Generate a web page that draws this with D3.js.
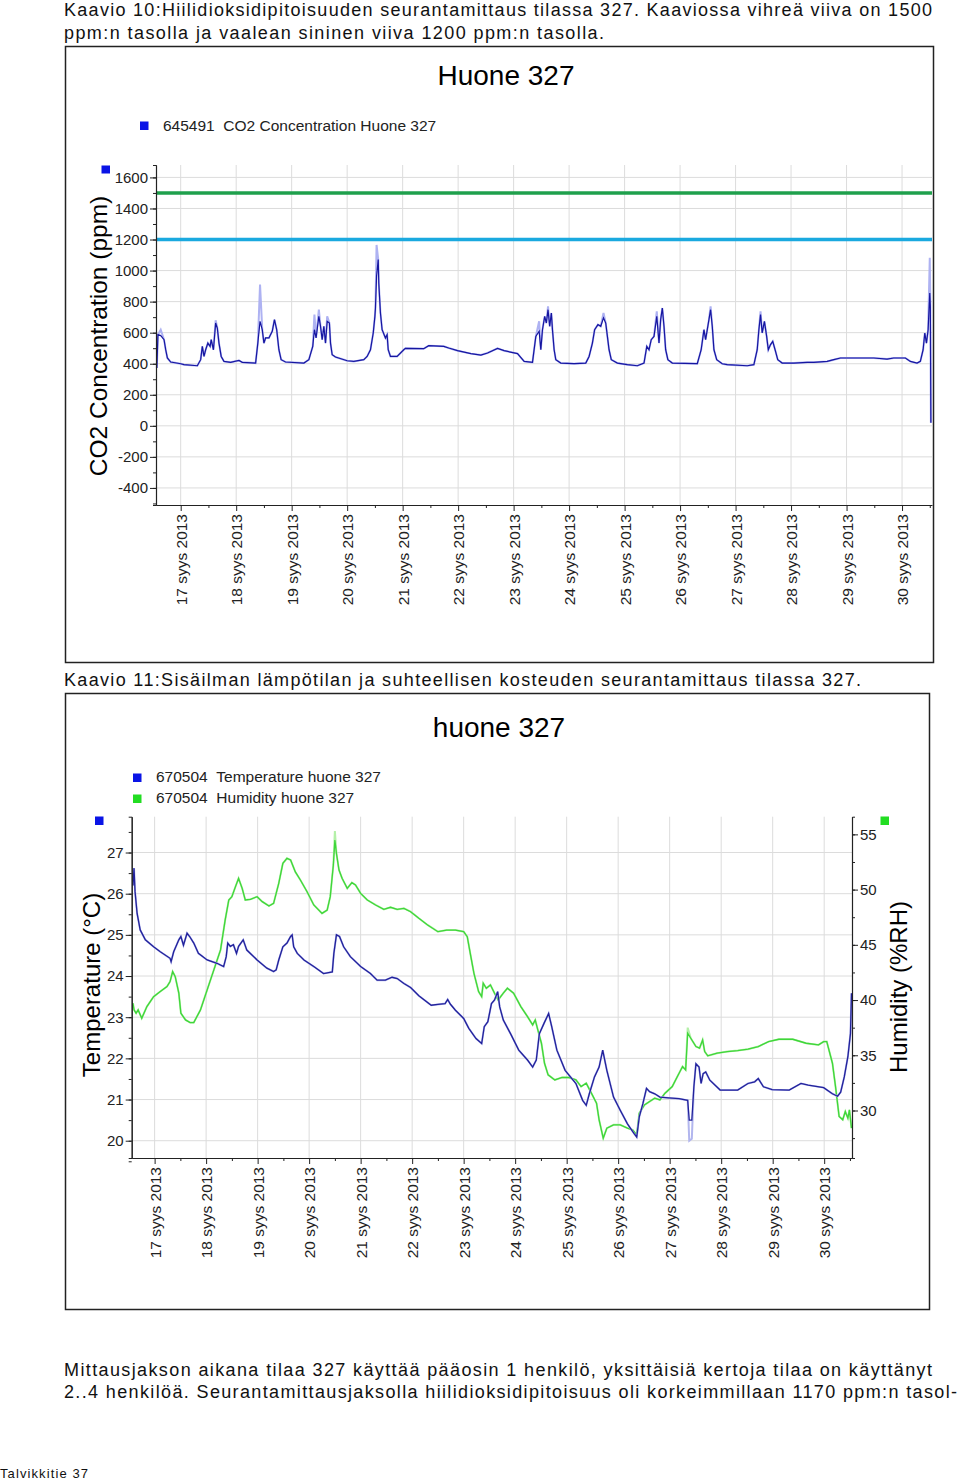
<!DOCTYPE html>
<html>
<head>
<meta charset="utf-8">
<script src="https://cdn.jsdelivr.net/npm/d3@7"></script>
<style>
  body { margin: 0; background: #fff; }
  svg { display: block; }
  .doc { font-family: "Liberation Sans Narrow", "Liberation Sans", Arial, sans-serif; font-size: 18px; fill: #111; }
  .chart text { font-family: "Liberation Sans", Arial, sans-serif; fill: #222; }
  .axis path, .axis line { stroke: #222; }
</style>
</head>
<body>
<div id="page"></div>
<script>
// paivat (syyskuu 2013) ja mitatut arvot
const dayTicks = d3.range(17, 31);
const co2Ticks = d3.range(-400, 1601, 200);
const tempTicks = d3.range(20, 28);
const humTicks = [30, 35, 40, 45, 50, 55];
const limitValues = [1500, 1200];
const limitColors = ["#1fa04c", "#1aa9df"];

const co2 = [
  [16.57, 372], [16.59, 587], [16.64, 581], [16.70, 555], [16.73, 490], [16.76, 437], [16.82, 411],
  [17.00, 400], [17.06, 394], [17.30, 387], [17.36, 426], [17.39, 512], [17.42, 447], [17.45, 490],
  [17.49, 533], [17.53, 512], [17.55, 555], [17.59, 490], [17.63, 662], [17.66, 630], [17.69, 533],
  [17.73, 447], [17.78, 415], [17.90, 409], [18.05, 421], [18.11, 409], [18.35, 404], [18.39, 533],
  [18.43, 673], [18.47, 619], [18.50, 533], [18.53, 566], [18.59, 566], [18.65, 609], [18.69, 684],
  [18.73, 619], [18.77, 490], [18.81, 426], [18.89, 411], [19.22, 404], [19.31, 426], [19.38, 512],
  [19.41, 619], [19.44, 566], [19.49, 705], [19.52, 641], [19.55, 555], [19.58, 641], [19.61, 533],
  [19.64, 673], [19.68, 662], [19.70, 533], [19.73, 458], [19.79, 443], [20.00, 419], [20.12, 415],
  [20.30, 426], [20.36, 447], [20.42, 490], [20.47, 598], [20.50, 705], [20.51, 759], [20.53, 963],
  [20.56, 1071], [20.57, 920], [20.60, 727], [20.63, 619], [20.69, 566], [20.72, 587], [20.74, 490],
  [20.78, 447], [20.90, 447], [21.02, 490], [21.05, 499], [21.38, 497], [21.47, 516], [21.74, 512],
  [21.83, 501], [21.99, 484], [22.23, 465], [22.41, 456], [22.53, 469], [22.71, 499], [22.83, 484],
  [23.07, 465], [23.19, 415], [23.34, 409], [23.40, 576], [23.46, 609], [23.49, 490], [23.52, 619],
  [23.56, 705], [23.59, 662], [23.62, 748], [23.65, 641], [23.68, 727], [23.70, 619], [23.73, 490],
  [23.76, 426], [23.85, 404], [24.09, 400], [24.30, 404], [24.36, 447], [24.42, 533], [24.46, 619],
  [24.52, 652], [24.57, 641], [24.62, 695], [24.66, 662], [24.69, 576], [24.72, 490], [24.76, 426],
  [24.87, 404], [25.05, 394], [25.23, 387], [25.35, 404], [25.40, 512], [25.44, 490], [25.48, 555],
  [25.53, 576], [25.58, 705], [25.62, 533], [25.65, 684], [25.68, 759], [25.71, 641], [25.74, 490],
  [25.78, 426], [25.86, 404], [26.31, 400], [26.38, 490], [26.43, 619], [26.46, 555], [26.52, 684],
  [26.55, 748], [26.58, 641], [26.61, 490], [26.66, 426], [26.76, 400], [26.85, 394], [27.21, 387],
  [27.33, 394], [27.39, 490], [27.42, 619], [27.45, 716], [27.48, 598], [27.52, 673], [27.56, 576],
  [27.59, 490], [27.63, 523], [27.67, 544], [27.72, 480], [27.76, 426], [27.84, 404], [28.05, 404],
  [28.29, 409], [28.41, 409], [28.65, 415], [28.77, 426], [28.89, 437], [29.49, 437], [29.73, 430],
  [29.85, 437], [30.06, 437], [30.15, 415], [30.27, 404], [30.33, 415], [30.38, 490], [30.41, 598],
  [30.44, 533], [30.47, 619], [30.50, 856], [30.51, 770], [30.52, 20]
];
// vaalea viiva: jaksojen maksimiarvot piikeissa
const co2Peaks = [
  [16.64, 619], [17.63, 680], [18.43, 910], [19.41, 716], [19.49, 748], [19.64, 705], [20.53, 1165],
  [23.46, 673], [23.62, 770], [24.62, 727], [25.58, 738], [26.55, 770], [27.45, 738], [30.50, 1082]
];

const temperature = [
  [16.58, 26.2], [16.60, 26.62], [16.62, 26.05], [16.66, 25.52], [16.72, 25.12], [16.82, 24.88],
  [16.98, 24.71], [17.11, 24.59], [17.30, 24.43], [17.32, 24.35], [17.37, 24.59], [17.47, 24.88],
  [17.51, 24.96], [17.56, 24.75], [17.63, 25.04], [17.68, 24.96], [17.76, 24.80], [17.85, 24.55],
  [18.02, 24.39], [18.21, 24.31], [18.34, 24.23], [18.39, 24.47], [18.42, 24.80], [18.47, 24.72],
  [18.53, 24.76], [18.59, 24.55], [18.63, 24.72], [18.72, 24.88], [18.79, 24.63], [18.99, 24.39],
  [19.18, 24.19], [19.31, 24.11], [19.36, 24.15], [19.41, 24.39], [19.49, 24.71], [19.57, 24.80],
  [19.64, 24.96], [19.67, 25.0], [19.70, 24.71], [19.77, 24.55], [19.90, 24.39], [20.09, 24.23],
  [20.28, 24.06], [20.45, 24.10], [20.48, 24.55], [20.53, 25.0], [20.59, 24.96], [20.67, 24.71],
  [20.80, 24.47], [21.00, 24.23], [21.19, 24.06], [21.32, 23.90], [21.48, 23.90], [21.61, 23.97],
  [21.71, 23.94], [21.84, 23.82], [21.97, 23.72], [22.13, 23.52], [22.37, 23.29], [22.50, 23.31],
  [22.64, 23.33], [22.69, 23.43], [22.74, 23.32], [22.84, 23.17], [23.00, 22.97], [23.10, 22.73],
  [23.24, 22.48], [23.35, 22.36], [23.40, 22.77], [23.47, 22.89], [23.54, 23.33], [23.60, 23.42],
  [23.66, 23.62], [23.70, 23.25], [23.77, 22.93], [23.91, 22.60], [24.07, 22.20], [24.24, 21.96],
  [24.34, 21.79], [24.41, 21.96], [24.47, 22.60], [24.56, 22.85], [24.65, 23.09], [24.71, 22.77],
  [24.81, 22.20], [24.97, 21.71], [25.18, 21.39], [25.31, 20.98], [25.38, 20.86], [25.44, 21.14],
  [25.54, 21.55], [25.63, 21.79], [25.70, 22.20], [25.78, 21.71], [25.91, 21.06], [26.04, 20.74],
  [26.18, 20.41], [26.31, 20.17], [26.36, 20.09], [26.41, 20.58], [26.48, 20.90], [26.55, 21.27],
  [26.61, 21.19], [26.71, 21.14], [26.81, 21.06], [26.98, 21.04], [27.18, 21.02], [27.35, 20.98],
  [27.38, 20.50], [27.43, 20.50], [27.47, 21.31], [27.51, 21.87], [27.57, 21.79], [27.61, 21.39],
  [27.65, 21.63], [27.70, 21.67], [27.78, 21.47], [27.98, 21.23], [28.32, 21.23], [28.52, 21.39],
  [28.65, 21.43], [28.72, 21.51], [28.82, 21.31], [28.99, 21.24], [29.32, 21.23], [29.55, 21.39],
  [29.69, 21.35], [29.99, 21.29], [30.16, 21.14], [30.26, 21.08], [30.32, 21.18], [30.39, 21.55],
  [30.46, 22.04], [30.51, 22.60], [30.53, 23.58]
];
const temperatureLows = [[27.38, 20.0], [27.43, 20.05]];

const humidity = [
  [16.58, 39.71], [16.60, 39.11], [16.64, 38.81], [16.68, 39.11], [16.75, 38.35], [16.85, 39.41],
  [16.98, 40.31], [17.11, 40.77], [17.24, 41.22], [17.30, 41.67], [17.35, 42.58], [17.40, 42.12],
  [17.47, 40.62], [17.51, 38.81], [17.60, 38.20], [17.69, 37.96], [17.76, 37.96], [17.89, 39.11],
  [18.02, 40.92], [18.15, 42.73], [18.28, 44.54], [18.37, 47.25], [18.44, 49.06], [18.50, 49.36],
  [18.57, 50.27], [18.63, 51.02], [18.70, 50.11], [18.76, 49.06], [18.86, 49.12], [18.99, 49.36],
  [19.09, 48.91], [19.22, 48.52], [19.31, 48.76], [19.41, 50.57], [19.49, 52.38], [19.57, 52.83],
  [19.64, 52.68], [19.73, 51.62], [19.83, 50.87], [19.96, 49.81], [20.09, 48.61], [20.25, 47.85],
  [20.35, 48.15], [20.41, 49.36], [20.47, 52.23], [20.50, 54.49], [20.53, 53.28], [20.58, 51.77],
  [20.64, 51.02], [20.74, 50.11], [20.83, 50.63], [20.90, 50.42], [21.00, 49.66], [21.13, 49.06],
  [21.29, 48.61], [21.45, 48.21], [21.58, 48.40], [21.71, 48.21], [21.84, 48.30], [21.97, 48.00],
  [22.13, 47.40], [22.30, 46.80], [22.50, 46.19], [22.67, 46.34], [22.84, 46.34], [23.00, 46.19],
  [23.07, 45.74], [23.14, 43.93], [23.20, 42.42], [23.29, 40.77], [23.35, 40.31], [23.38, 41.52],
  [23.44, 41.07], [23.52, 41.37], [23.60, 40.62], [23.67, 40.01], [23.77, 40.62], [23.85, 41.07],
  [23.97, 40.62], [24.11, 39.41], [24.24, 38.50], [24.34, 37.75], [24.39, 38.20], [24.44, 37.30],
  [24.51, 36.09], [24.57, 34.28], [24.64, 33.23], [24.77, 32.77], [24.91, 32.99], [25.04, 32.99],
  [25.18, 32.77], [25.28, 32.17], [25.38, 32.47], [25.48, 31.57], [25.58, 30.66], [25.63, 29.16],
  [25.71, 27.50], [25.78, 28.40], [25.91, 28.70], [26.04, 28.70], [26.18, 28.40], [26.28, 28.25],
  [26.36, 27.80], [26.41, 29.76], [26.51, 30.51], [26.61, 30.81], [26.71, 31.12], [26.81, 30.96],
  [26.91, 31.57], [27.05, 32.17], [27.15, 33.08], [27.25, 33.98], [27.31, 33.68], [27.35, 36.99],
  [27.41, 36.54], [27.51, 35.79], [27.58, 35.64], [27.64, 36.39], [27.68, 35.34], [27.74, 34.95],
  [27.92, 35.19], [28.12, 35.34], [28.32, 35.43], [28.52, 35.55], [28.72, 35.79], [28.92, 36.24],
  [29.12, 36.45], [29.39, 36.45], [29.65, 36.09], [29.89, 35.94], [29.99, 36.24], [30.05, 36.24],
  [30.16, 34.28], [30.22, 32.17], [30.29, 29.46], [30.36, 29.16], [30.41, 29.91], [30.46, 29.31],
  [30.49, 30.06], [30.53, 28.40]
];
const humidityPeaks = [[20.50, 55.3], [27.35, 37.5]];

const docLines = [
  { text: "Kaavio 10:Hiilidioksidipitoisuuden seurantamittaus tilassa 327. Kaaviossa vihreä viiva on 1500", x: 64, y: 16, w: 868 },
  { text: "ppm:n tasolla ja vaalean sininen viiva 1200 ppm:n tasolla.", x: 64, y: 39, w: 540 },
  { text: "Kaavio 11:Sisäilman lämpötilan ja suhteellisen kosteuden seurantamittaus tilassa 327.", x: 64, y: 686, w: 797 },
  { text: "Mittausjakson aikana tilaa 327 käyttää pääosin 1 henkilö, yksittäisiä kertoja tilaa on käyttänyt", x: 64, y: 1376, w: 868 },
  { text: "2..4 henkilöä. Seurantamittausjaksolla hiilidioksidipitoisuus oli korkeimmillaan 1170 ppm:n tasol-", x: 64, y: 1398, w: 893 },
  { text: "Talvikkitie 37", x: 0, y: 1478, w: 88, size: 13 }
];

const svg = d3.select("#page").append("svg").attr("width", 960).attr("height", 1483);

svg.selectAll("text.doc")
  .data(docLines)
  .enter()
  .append("text")
  .attr("class", "doc")
  .attr("x", (d) => d.x)
  .attr("y", (d) => d.y)
  .attr("textLength", (d) => d.w)
  .attr("lengthAdjust", "spacing")
  .style("font-size", (d) => (d.size || 18) + "px")
  .text((d) => d.text);

const withPeaks = (series, peaks) => {
  const m = new Map(peaks);
  return series.map(([d, v]) => [d, m.has(d) ? m.get(d) : v]);
};

const dayFormat = (d) => d + " syys 2013";
const plainNum = (d) => String(d);

// helper: x-akseli pystyyn kaannetyilla paivamaarilla
function drawXAxis(g, x, y0) {
  g.append("g")
    .attr("class", "axis")
    .attr("transform", `translate(0,${y0})`)
    .call(d3.axisBottom(x).tickValues(d3.range(17.5, 30.6, 1)).tickSize(3).tickFormat(""))
    .call((a) => a.select(".domain").remove());
  const ax = g.append("g")
    .attr("class", "axis")
    .attr("transform", `translate(0,${y0})`)
    .call(d3.axisBottom(x).tickValues(dayTicks).tickSize(6).tickSizeOuter(0).tickFormat(dayFormat));
  ax.select(".domain").attr("stroke-width", 1.2);
  ax.selectAll("text")
    .attr("transform", "rotate(-90)")
    .attr("text-anchor", "end")
    .attr("x", -9)
    .attr("y", 0)
    .attr("dy", "0.36em")
    .style("font-size", "15.5px");
}

// ---------------- Kaavio 10: CO2 ----------------
const c1 = svg.append("g").attr("class", "chart");
c1.append("rect")
  .attr("x", 65.5).attr("y", 46.5).attr("width", 868).attr("height", 616)
  .attr("fill", "none").attr("stroke", "#222").attr("stroke-width", 1.5);

const x1 = d3.scaleLinear().domain([16.555, 30.54]).range([156, 932]);
const y1 = d3.scaleLinear().domain([-510, 1680]).range([505, 165]);

c1.append("text").attr("x", 506).attr("y", 85).attr("text-anchor", "middle")
  .style("font-size", "28px").style("fill", "#000").text("Huone 327");
c1.append("rect").attr("x", 140).attr("y", 121.5).attr("width", 8.5).attr("height", 8.5).attr("fill", "#0a14e6");
c1.append("text").attr("x", 163).attr("y", 131).style("font-size", "15.5px")
  .text("645491\u00a0\u00a0CO2 Concentration Huone 327");
c1.append("rect").attr("x", 101.5).attr("y", 165.5).attr("width", 8.5).attr("height", 8).attr("fill", "#0a14e6");

c1.selectAll("line.hgrid").data(co2Ticks).enter().append("line")
  .attr("x1", 156).attr("x2", 932).attr("y1", (d) => y1(d)).attr("y2", (d) => y1(d))
  .attr("stroke", "#dcdcdc");
c1.selectAll("line.vgrid").data(dayTicks).enter().append("line")
  .attr("y1", 165).attr("y2", 505).attr("x1", (d) => x1(d)).attr("x2", (d) => x1(d))
  .attr("stroke", "#dcdcdc");

c1.selectAll("line.limit").data(limitValues).enter().append("line")
  .attr("x1", 156).attr("x2", 932).attr("y1", (d) => y1(d)).attr("y2", (d) => y1(d))
  .attr("stroke", (d, i) => limitColors[i]).attr("stroke-width", 3.5);

const line1 = d3.line().x((d) => x1(d[0])).y((d) => y1(d[1]));
c1.append("path").datum(withPeaks(co2, co2Peaks)).attr("d", line1)
  .attr("fill", "none").attr("stroke", "#aeb2f2").attr("stroke-width", 2);
c1.append("path").datum(co2).attr("d", line1)
  .attr("fill", "none").attr("stroke", "#1616a0").attr("stroke-width", 1.2);

c1.append("g").attr("class", "axis").attr("transform", "translate(156,0)")
  .call(d3.axisLeft(y1).tickValues(d3.range(-500, 1700, 100)).tickSize(3).tickFormat(""));
const yAx1 = c1.append("g").attr("class", "axis").attr("transform", "translate(156,0)")
  .call(d3.axisLeft(y1).tickValues(co2Ticks).tickSize(6).tickSizeOuter(0).tickPadding(2).tickFormat(plainNum));
yAx1.select(".domain").attr("stroke-width", 1.2);
yAx1.selectAll("text").style("font-size", "15px");

drawXAxis(c1, x1, 505);

c1.append("text")
  .attr("transform", "translate(107,336) rotate(-90)")
  .attr("text-anchor", "middle")
  .style("font-size", "24.5px").style("fill", "#000")
  .text("CO2 Concentration (ppm)");

// ---------------- Kaavio 11: lampotila ja kosteus ----------------
const c2 = svg.append("g").attr("class", "chart");
c2.append("rect")
  .attr("x", 65.5).attr("y", 693.5).attr("width", 864).attr("height", 616)
  .attr("fill", "none").attr("stroke", "#222").attr("stroke-width", 1.5);

const x2 = d3.scaleLinear().domain([16.555, 30.54]).range([131.7, 852]);
const yT = d3.scaleLinear().domain([19.58, 27.87]).range([1158, 816.7]);
const yH = d3.scaleLinear().domain([25.7, 56.6]).range([1158, 816.7]);

c2.append("text").attr("x", 499).attr("y", 737).attr("text-anchor", "middle")
  .style("font-size", "28px").style("fill", "#000").text("huone 327");
c2.append("rect").attr("x", 133).attr("y", 773.5).attr("width", 8.5).attr("height", 8.5).attr("fill", "#0a14e6");
c2.append("rect").attr("x", 133).attr("y", 794.5).attr("width", 8.5).attr("height", 8.5).attr("fill", "#22dd22");
c2.append("text").attr("x", 156).attr("y", 782).style("font-size", "15.5px")
  .text("670504\u00a0\u00a0Temperature huone 327");
c2.append("text").attr("x", 156).attr("y", 803).style("font-size", "15.5px")
  .text("670504\u00a0\u00a0Humidity huone 327");
c2.append("rect").attr("x", 95).attr("y", 816.5).attr("width", 8.5).attr("height", 8.5).attr("fill", "#0a14e6");
c2.append("rect").attr("x", 880.5).attr("y", 816.5).attr("width", 8.5).attr("height", 8.5).attr("fill", "#22dd22");

c2.selectAll("line.hgrid").data(tempTicks).enter().append("line")
  .attr("x1", 131.7).attr("x2", 852).attr("y1", (d) => yT(d)).attr("y2", (d) => yT(d))
  .attr("stroke", "#dcdcdc");
c2.selectAll("line.vgrid").data(dayTicks).enter().append("line")
  .attr("y1", 816.7).attr("y2", 1158).attr("x1", (d) => x2(d)).attr("x2", (d) => x2(d))
  .attr("stroke", "#dcdcdc");

const lineT = d3.line().x((d) => x2(d[0])).y((d) => yT(d[1]));
const lineH = d3.line().x((d) => x2(d[0])).y((d) => yH(d[1]));
c2.append("path").datum(withPeaks(humidity, humidityPeaks)).attr("d", lineH)
  .attr("fill", "none").attr("stroke", "#b4f0a8").attr("stroke-width", 2);
c2.append("path").datum(humidity).attr("d", lineH)
  .attr("fill", "none").attr("stroke", "#3ed63a").attr("stroke-width", 1.3);
c2.append("path").datum(withPeaks(temperature, temperatureLows)).attr("d", lineT)
  .attr("fill", "none").attr("stroke", "#b2b6ee").attr("stroke-width", 2);
c2.append("path").datum(temperature).attr("d", lineT)
  .attr("fill", "none").attr("stroke", "#22229a").attr("stroke-width", 1.3);

c2.append("g").attr("class", "axis").attr("transform", "translate(131.7,0)")
  .call(d3.axisLeft(yT).tickValues(d3.range(19.5, 27.6, 0.5)).tickSize(3).tickFormat(""));
const yAx2 = c2.append("g").attr("class", "axis").attr("transform", "translate(131.7,0)")
  .call(d3.axisLeft(yT).tickValues(tempTicks).tickSize(6).tickSizeOuter(0).tickPadding(2).tickFormat(plainNum));
yAx2.select(".domain").attr("stroke-width", 1.2);
yAx2.selectAll("text").style("font-size", "15px");

c2.append("g").attr("class", "axis").attr("transform", "translate(852,0)")
  .call(d3.axisRight(yH).tickValues(d3.range(27.5, 56, 2.5)).tickSize(3).tickFormat(""));
const yAx3 = c2.append("g").attr("class", "axis").attr("transform", "translate(852,0)")
  .call(d3.axisRight(yH).tickValues(humTicks).tickSize(6).tickSizeOuter(0).tickPadding(2).tickFormat(plainNum));
yAx3.select(".domain").attr("stroke-width", 1.2);
yAx3.selectAll("text").style("font-size", "15px");

drawXAxis(c2, x2, 1158);

c2.append("text")
  .attr("transform", "translate(100,985) rotate(-90)")
  .attr("text-anchor", "middle")
  .style("font-size", "24px").style("fill", "#000")
  .text("Temperature (°C)");
c2.append("text")
  .attr("transform", "translate(907,987) rotate(-90)")
  .attr("text-anchor", "middle")
  .style("font-size", "24px").style("fill", "#000")
  .text("Humidity (%RH)");
</script>
</body>
</html>
